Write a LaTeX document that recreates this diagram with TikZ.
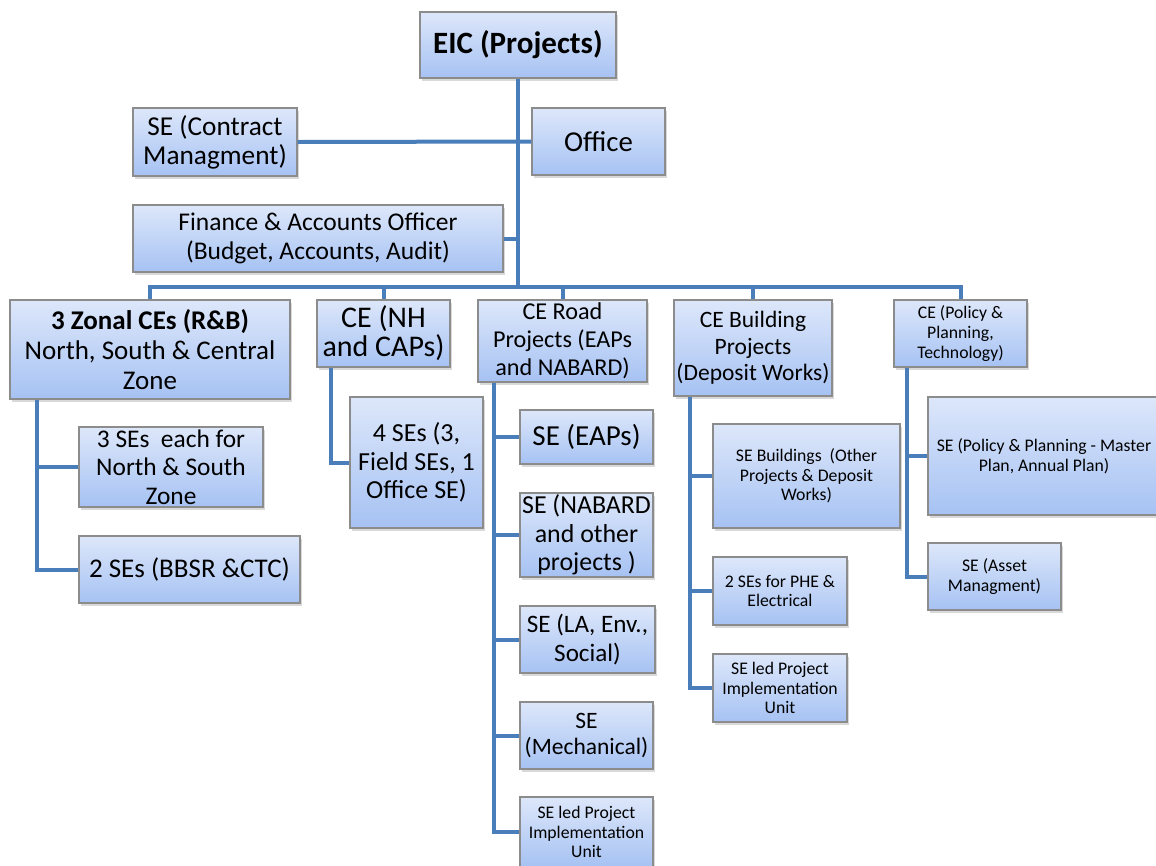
\documentclass[tikz,border=0pt]{standalone}
\usepackage{fontspec}
\setmainfont{Carlito}
\usetikzlibrary{shadows}
\definecolor{boxtop}{HTML}{DDE7FA}
\definecolor{boxbot}{HTML}{A6C2F3}
\definecolor{boxline}{HTML}{8C8C8C}
\definecolor{conncol}{HTML}{4A7EBB}
\newcommand{\fs}[2]{\fontsize{#1}{#2}\selectfont}
\tikzset{
  box/.style={rectangle, draw=boxline, line width=1.2pt, top color=boxtop, bottom color=boxbot,
    align=center, inner sep=0pt, text=black,
    drop shadow={opacity=0.3, shadow xshift=1.5pt, shadow yshift=-3pt}},
  sml/.style={font=\fs{17.7}{19.6}},
  conn/.style={draw=conncol, line width=4pt},
}
\begin{document}
\begin{tikzpicture}[x=1pt,y=-1pt]
\useasboundingbox (0,0) rectangle (1156,865);
\coordinate (bus) at (518,287);
\coordinate (zx) at (37,0);
\coordinate (nx) at (331,0);
\coordinate (rx) at (494,0);
\coordinate (bx) at (690,0);
\coordinate (px) at (907,0);
% nodes
\node[box,font=\fs{31}{36}\bfseries,minimum width=196,minimum height=66] (eic) at (518,45) {EIC (Projects)};
\node[box,font=\fs{27.3}{29},minimum width=164,minimum height=68] (sec) at (215,142) {SE (Contract\\Managment)};
\node[box,font=\fs{28.8}{32},minimum width=133,minimum height=67] (office) at (598.5,141.5) {Office};
\node[box,font=\fs{25.5}{29},minimum width=370,minimum height=67] (fin) at (318,238.5) {Finance \& Accounts Officer\\(Budget, Accounts, Audit)};
\node[box,font=\fs{27}{30},minimum width=280,minimum height=99] (zone) at (150,349.5) {\textbf{3 Zonal CEs (R\&B)}\\North, South \& Central\\Zone};
\node[box,font=\fs{30}{29},minimum width=133,minimum height=67] (nh) at (383.5,333.5) {CE (NH\\and CAPs)};
\node[box,font=\fs{24.2}{28},minimum width=169,minimum height=82] (road) at (562.5,341) {CE Road\\Projects (EAPs\\and NABARD)};
\node[box,font=\fs{23.5}{26.5},minimum width=158,minimum height=96] (bldg) at (753,348) {CE Building\\Projects\\(Deposit Works)};
\node[box,sml,minimum width=133,minimum height=67] (pol) at (960.5,333.5) {CE (Policy \&\\Planning,\\Technology)};
\node[box,font=\fs{25.4}{28.5},minimum width=184,minimum height=80] (se3) at (171,467) {3 SEs\ \ each for\\North \& South\\Zone};
\node[box,font=\fs{27}{30},minimum width=221,minimum height=67] (se2) at (189.5,569.5) {2 SEs (BBSR \&CTC)};
\node[box,font=\fs{26}{28.5},minimum width=133,minimum height=131] (se4) at (416.5,462.5) {4 SEs (3,\\Field SEs, 1\\Office SE)};
\node[box,font=\fs{29}{32},minimum width=133,minimum height=54] (eaps) at (586.5,437) {SE (EAPs)};
\node[box,font=\fs{25.9}{28.5},minimum width=133,minimum height=84] (nabard) at (586.5,535) {SE (NABARD\\and other\\projects )};
\node[box,font=\fs{25.1}{29},minimum width=135,minimum height=67] (la) at (587.5,639.5) {SE (LA, Env.,\\Social)};
\node[box,font=\fs{23.5}{26},minimum width=133,minimum height=67] (mech) at (586.5,735.5) {SE\\(Mechanical)};
\node[box,sml,minimum width=133,minimum height=70] (piu1) at (586.5,832) {SE led Project\\Implementation\\Unit};
\node[box,sml,minimum width=187,minimum height=104] (sebld) at (806.5,476) {SE Buildings\ \ (Other\\Projects \& Deposit\\Works)};
\node[box,sml,minimum width=134,minimum height=68] (phe) at (780,591) {2 SEs for PHE \&\\Electrical};
\node[box,sml,minimum width=134,minimum height=68] (piu2) at (780,688) {SE led Project\\Implementation\\Unit};
\node[box,sml,minimum width=232,minimum height=118] (ppm) at (1044,456) {SE (Policy \& Planning - Master\\Plan, Annual Plan)};
\node[box,sml,minimum width=133,minimum height=67] (asset) at (994.5,576.5) {SE (Asset\\Managment)};
% connectors
\draw[conn] (eic.south) -- (bus);
\draw[conn] (sec.east) -- (office.west);
\draw[conn] (fin.east) -- (fin.east -| bus);
\draw[conn] (zone.north) |- (bus) -| (pol.north);
\draw[conn] (nh.north) -- (nh.north |- bus);
\draw[conn] (road.north) -- (road.north |- bus);
\draw[conn] (bldg.north) -- (bldg.north |- bus);
\draw[conn] (zx |- zone.south) |- (se2.west);
\draw[conn] (zx |- se3.west) -- (se3.west);
\draw[conn] (nx |- nh.south) |- (se4.west);
\draw[conn] (rx |- road.south) |- (piu1.west);
\draw[conn] (rx |- eaps.west) -- (eaps.west);
\draw[conn] (rx |- nabard.west) -- (nabard.west);
\draw[conn] (rx |- la.west) -- (la.west);
\draw[conn] (rx |- mech.west) -- (mech.west);
\draw[conn] (bx |- bldg.south) |- (piu2.west);
\draw[conn] (bx |- sebld.west) -- (sebld.west);
\draw[conn] (bx |- phe.west) -- (phe.west);
\draw[conn] (px |- pol.south) |- (asset.west);
\draw[conn] (px |- ppm.west) -- (ppm.west);
\end{tikzpicture}
\end{document}
